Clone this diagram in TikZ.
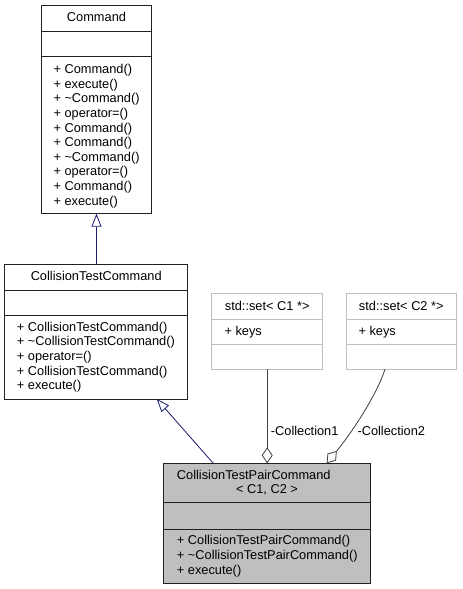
\documentclass[tikz,border=0pt]{standalone}
\usepackage{fontspec}
\setmainfont{Liberation Sans}
\usetikzlibrary{arrows.meta}
\definecolor{inhcol}{RGB}{25,25,112}
\definecolor{aggcol}{RGB}{64,64,64}
\definecolor{setcol}{RGB}{191,191,191}
\definecolor{boxcol}{RGB}{32,32,32}
\definecolor{fillcol}{RGB}{191,191,191}
\newcommand{\umlfont}{\fontsize{12.8}{14.6}\selectfont}
\tikzset{
  classbox/.style={draw=boxcol, line width=0.9pt, fill=white, rectangle, inner sep=0pt, outer sep=0pt, anchor=north west},
  setbox/.style={draw=setcol, line width=0.9pt, fill=white, rectangle, inner sep=0pt, outer sep=0pt, anchor=north west},
  classsep/.style={draw=boxcol, line width=0.9pt},
  setsep/.style={draw=setcol, line width=0.9pt},
  mtext/.style={anchor=west, inner sep=0pt, text height=9pt, text depth=0pt, font=\umlfont},
  ttext/.style={anchor=center, inner sep=0pt, text height=9pt, text depth=0pt, font=\umlfont},
  inhline/.style={draw=inhcol, line width=0.8pt, -{Triangle[open, length=13pt, width=10pt]}},
  aggline/.style={draw=aggcol, line width=0.8pt, -{Diamond[open, length=16pt, width=11pt]}},
}
\begin{document}
\begin{tikzpicture}[x=1pt, y=-1pt]
\useasboundingbox[fill=white] (0,0) rectangle (463,589);

% Command
\node[classbox, minimum width=109.6pt, minimum height=208.4pt] (cmd) at (41.7,5.3) {};
\draw[classsep] (41.7,31) -- (151.3,31);
\draw[classsep] (41.7,56.7) -- (151.3,56.7);
\node[ttext] (cmdt) at (96.5,17.3) {Command};
\foreach \t [count=\i from 0] in {+ Command(), + execute(), + \textasciitilde Command(), + operator=(), + Command(), + Command(), + \textasciitilde Command(), + operator=(), + Command(), + execute()}
  \node[mtext] (cmdm\i) at (53.3,69+14.63*\i) {\t};

% CollisionTestCommand
\node[classbox, minimum width=183pt, minimum height=134.7pt] (ctc) at (4.7,264.3) {};
\draw[classsep] (4.7,290) -- (187.7,290);
\draw[classsep] (4.7,315.3) -- (187.7,315.3);
\node[ttext] (ctct) at (96.2,276.2) {CollisionTestCommand};
\foreach \t [count=\i from 0] in {+ CollisionTestCommand(), + \textasciitilde CollisionTestCommand(), + operator=(), + CollisionTestCommand(), + execute()}
  \node[mtext] (ctcm\i) at (16.7,326.7+14.6*\i) {\t};

% std::set< C1 *>
\node[setbox, minimum width=111pt, minimum height=76pt] (set1) at (211.7,293.3) {};
\draw[setsep] (211.7,319) -- (322.7,319);
\draw[setsep] (211.7,344.3) -- (322.7,344.3);
\node[ttext] (set1t) at (267.2,306.2) {std::set< C1 *>};
\node[mtext] (set1m) at (224.3,331.3) {+ keys};

% std::set< C2 *>
\node[setbox, minimum width=110.7pt, minimum height=76pt] (set2) at (346,293.3) {};
\draw[setsep] (346,319) -- (456.7,319);
\draw[setsep] (346,344.3) -- (456.7,344.3);
\node[ttext] (set2t) at (401.3,306.2) {std::set< C2 *>};
\node[mtext] (set2m) at (358.3,331.3) {+ keys};

% CollisionTestPairCommand
\node[classbox, fill=fillcol, minimum width=207.4pt, minimum height=120pt] (ctpc) at (163.3,463.3) {};
\draw[classsep] (163.3,502.3) -- (370.7,502.3);
\draw[classsep] (163.3,529) -- (370.7,529);
\node[mtext] (ctpct1) at (176.7,475.3) {CollisionTestPairCommand};
\node[ttext] (ctpct2) at (267,489) {< C1, C2 >};
\foreach \t [count=\i from 0] in {+ CollisionTestPairCommand(), + \textasciitilde CollisionTestPairCommand(), + execute()}
  \node[mtext] (ctpcm\i) at (176.7,540+14.8*\i) {\t};

% inheritance
\draw[inhline] (cmd.south |- ctc.north) -- (cmd.south);
\draw[inhline] ([xshift=50pt]ctpc.north west) -- ([xshift=152pt]ctc.south west);

% aggregation
\draw[aggline] (set1.south) -- (set1.south |- ctpc.north);
\draw[aggline] ([xshift=39pt]set2.south west) .. controls (377,394) and (353.2,430.8) .. ([xshift=163.4pt]ctpc.north west);
\node[mtext] (lab1) at (270.7,431.2) {-Collection1};
\node[mtext] (lab2) at (357.3,431.2) {-Collection2};
\end{tikzpicture}
\end{document}
